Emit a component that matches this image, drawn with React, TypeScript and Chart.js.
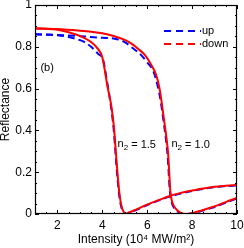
import React, { useEffect, useRef } from "react";
import { Chart, registerables } from "chart.js";

Chart.register(...registerables);

// ---- data ----
// n2 = 1.5, "down" (red solid)
const downA_x = [1, 1.5, 2, 2.5, 3, 3.5, 3.8, 4.0, 4.23, 4.38, 4.46, 4.53, 4.6, 4.68, 4.76, 4.85, 4.95, 5.06, 5.2, 5.5, 6, 6.5, 7, 7.5, 8, 8.5, 9, 9.5, 10];
const downA_y = [0.887, 0.886, 0.882, 0.87, 0.852, 0.823, 0.79, 0.75, 0.61, 0.53, 0.47, 0.4, 0.3, 0.19, 0.1, 0.04, 0.01, 0.0, 0.008, 0.021, 0.045, 0.066, 0.086, 0.101, 0.112, 0.122, 0.13, 0.135, 0.139];
// n2 = 1.5, "up" (blue dashed)
const upA_x = [1, 1.5, 2, 2.5, 3, 3.2, 3.5, 3.8, 4.04, 4.2, 4.35, 4.44, 4.51, 4.58, 4.66, 4.74, 4.83, 4.93, 5.04, 5.2, 5.5, 6, 6.5, 7, 7.5, 8, 8.5, 9, 9.5, 10];
const upA_y = [0.86, 0.858, 0.855, 0.847, 0.832, 0.823, 0.8, 0.767, 0.735, 0.64, 0.54, 0.47, 0.4, 0.3, 0.19, 0.1, 0.04, 0.01, 0.0, 0.007, 0.019, 0.043, 0.064, 0.083, 0.098, 0.11, 0.12, 0.128, 0.133, 0.137];
// n2 = 1.0, "down" (red solid)
const downB_x = [1, 2, 3, 3.5, 4, 4.5, 5, 5.3, 5.6, 5.9, 6.2, 6.4, 6.55, 6.65, 6.75, 6.85, 6.93, 6.98, 7.03, 7.12, 7.3, 7.5, 7.75, 8.0, 8.4, 8.8, 9.1, 9.5, 10];
const downB_y = [0.889, 0.885, 0.877, 0.872, 0.865, 0.852, 0.833, 0.815, 0.79, 0.76, 0.71, 0.665, 0.6, 0.53, 0.45, 0.37, 0.29, 0.2, 0.11, 0.055, 0.022, 0.005, 0.0, 0.004, 0.016, 0.03, 0.04, 0.057, 0.077];
// n2 = 1.0, "up" (blue dashed)
const upB_x = [1, 2, 3, 4, 4.56, 5.0, 5.28, 5.73, 6.0, 6.26, 6.45, 6.6, 6.72, 6.82, 6.9, 6.95, 7.0, 7.08, 7.25, 7.45, 7.72, 8.0, 8.4, 8.8, 9.1, 9.5, 10];
const upB_y = [0.86, 0.857, 0.851, 0.843, 0.839, 0.822, 0.8, 0.76, 0.725, 0.687, 0.62, 0.54, 0.45, 0.37, 0.29, 0.21, 0.12, 0.06, 0.022, 0.005, 0.0, 0.003, 0.014, 0.027, 0.037, 0.054, 0.074];

const xTicks = [2, 4, 6, 8, 10];
const yTicks = [0, 0.2, 0.4, 0.6, 0.8, 1];
const yTickLabels = ["0", "0.2", "0.4", "0.6", "0.8", "1"];
const xMinor = [1.5, 2.5, 3, 3.5, 4.5, 5, 5.5, 6.5, 7, 7.5, 8.5, 9, 9.5];
const yMinor = [0.05, 0.1, 0.15, 0.25, 0.3, 0.35, 0.45, 0.5, 0.55, 0.65, 0.7, 0.75, 0.85, 0.9, 0.95];
const legendLabels = ["up", "down"];
const curveLabels = [
  { text: "1.5", x: 4.68, y: 0.314 },
  { text: "1.0", x: 7.08, y: 0.314 },
];
const panelLabel = { text: "(b)", x: 1.24, y: 0.685 };

const FONT = "'Liberation Sans', Arial, Helvetica, sans-serif";
const RED = "#ff0000";
const BLUE = "#0000ff";

function pts(xs: number[], ys: number[]) {
  return xs.map((x, i) => ({ x, y: ys[i] }));
}

const decorPlugin = {
  id: "decor",
  afterDraw(chart: any) {
    const { ctx, chartArea: a, scales } = chart;
    const xs = scales.x;
    const ys = scales.y;
    ctx.save();
    // frame
    ctx.strokeStyle = "#000";
    ctx.lineWidth = 1.2;
    ctx.strokeRect(a.left + 0.5, a.top + 0.5, a.right - a.left - 1, a.bottom - a.top - 1);
    // ticks
    ctx.lineWidth = 1;
    ctx.beginPath();
    const tick = (v: number, len: number, horiz: boolean) => {
      if (horiz) {
        const p = Math.round(xs.getPixelForValue(v)) + 0.5;
        ctx.moveTo(p, a.bottom);
        ctx.lineTo(p, a.bottom - len);
        ctx.moveTo(p, a.top);
        ctx.lineTo(p, a.top + len);
      } else {
        const p = Math.round(ys.getPixelForValue(v)) + 0.5;
        ctx.moveTo(a.left, p);
        ctx.lineTo(a.left + len, p);
        ctx.moveTo(a.right, p);
        ctx.lineTo(a.right - len, p);
      }
    };
    xTicks.forEach((v) => tick(v, 4, true));
    xMinor.forEach((v) => tick(v, 2, true));
    yTicks.forEach((v) => tick(v, 4, false));
    yMinor.forEach((v) => tick(v, 2, false));
    ctx.stroke();

    // curve labels n2 = ...
    ctx.fillStyle = "#000";
    ctx.textBaseline = "alphabetic";
    ctx.textAlign = "left";
    curveLabels.forEach((c) => {
      let px = xs.getPixelForValue(c.x);
      const py = ys.getPixelForValue(c.y);
      ctx.font = `11px ${FONT}`;
      ctx.fillText("n", px, py - 1);
      px += ctx.measureText("n").width;
      ctx.font = `8px ${FONT}`;
      ctx.fillText("2", px, py + 2);
      px += ctx.measureText("2").width;
      ctx.font = `11px ${FONT}`;
      ctx.fillText(" = " + c.text, px, py);
    });
    // panel label
    ctx.font = `11px ${FONT}`;
    ctx.fillText(panelLabel.text, xs.getPixelForValue(panelLabel.x), ys.getPixelForValue(panelLabel.y));

    // legend
    const ds = chart.data.datasets;
    const legendItems = [
      { label: legendLabels[0], color: ds[2].borderColor },
      { label: legendLabels[1], color: ds[0].borderColor },
    ];
    ctx.lineWidth = 2;
    ctx.setLineDash([7, 5]);
    ctx.textBaseline = "middle";
    legendItems.forEach((it, i) => {
      const ly = a.top + 26 + i * 13;
      ctx.strokeStyle = it.color;
      ctx.beginPath();
      ctx.moveTo(a.right - 73, ly);
      ctx.lineTo(a.right - 36, ly);
      ctx.stroke();
      ctx.fillStyle = "#000";
      ctx.font = `11px ${FONT}`;
      ctx.fillText(it.label, a.right - 35, ly);
    });
    ctx.restore();
  },
};

export default function App() {
  const ref = useRef<HTMLCanvasElement>(null);
  useEffect(() => {
    document.body.style.margin = "0";
    const canvas = ref.current!;
    const common = { pointRadius: 0, borderWidth: 2, cubicInterpolationMode: "monotone" as const, fill: false };
    const chart = new Chart(canvas, {
      type: "line",
      data: {
        datasets: [
          { ...common, label: "down n2=1.5", data: pts(downA_x, downA_y), borderColor: RED },
          { ...common, label: "down n2=1.0", data: pts(downB_x, downB_y), borderColor: RED },
          { ...common, label: "up n2=1.5", data: pts(upA_x, upA_y), borderColor: BLUE, borderDash: [7, 4] },
          { ...common, label: "up n2=1.0", data: pts(upB_x, upB_y), borderColor: BLUE, borderDash: [7, 4] },
        ],
      },
      options: {
        animation: false,
        responsive: false,
        devicePixelRatio: 1,
        layout: { padding: { top: 5, right: 7, left: 0, bottom: 0 } },
        plugins: { legend: { display: false }, tooltip: { enabled: false } },
        scales: {
          x: {
            type: "linear",
            min: 1,
            max: 10,
            grid: { display: false, drawTicks: false },
            border: { display: false },
            afterBuildTicks: (s: any) => {
              s.ticks = xTicks.map((v) => ({ value: v }));
            },
            afterFit: (s: any) => {
              s.height = 34;
              s.paddingLeft = 0;
              s.paddingRight = 0;
            },
            ticks: {
              color: "#000",
              padding: 4,
              maxRotation: 0,
              font: { family: FONT, size: 12 },
              callback: (v: any) => String(v),
            },
            title: {
              display: true,
              text: "Intensity (10\u2074 MW/m\u00B2)",
              color: "#000",
              font: { family: FONT, size: 12 },
              padding: { top: 0, bottom: 1 },
            },
          },
          y: {
            type: "linear",
            min: 0,
            max: 1,
            grid: { display: false, drawTicks: false },
            border: { display: false },
            afterBuildTicks: (s: any) => {
              s.ticks = yTicks.map((v) => ({ value: v }));
            },
            afterFit: (s: any) => {
              s.width = 35;
              s.paddingTop = 0;
              s.paddingBottom = 0;
            },
            ticks: {
              color: "#000",
              padding: 3,
              font: { family: FONT, size: 12 },
              callback: (v: any, i: number) => yTickLabels[i],
            },
            title: {
              display: true,
              text: "Reflectance",
              color: "#000",
              font: { family: FONT, size: 12, lineHeight: 1 },
              padding: { top: 0, bottom: 0 },
            },
          },
        },
      },
      plugins: [decorPlugin],
    });
    return () => chart.destroy();
  }, []);
  return (
    <div style={{ width: 244, height: 248 }}>
      <canvas ref={ref} width={244} height={248} style={{ display: "block", width: 244, height: 248 }} />
    </div>
  );
}
